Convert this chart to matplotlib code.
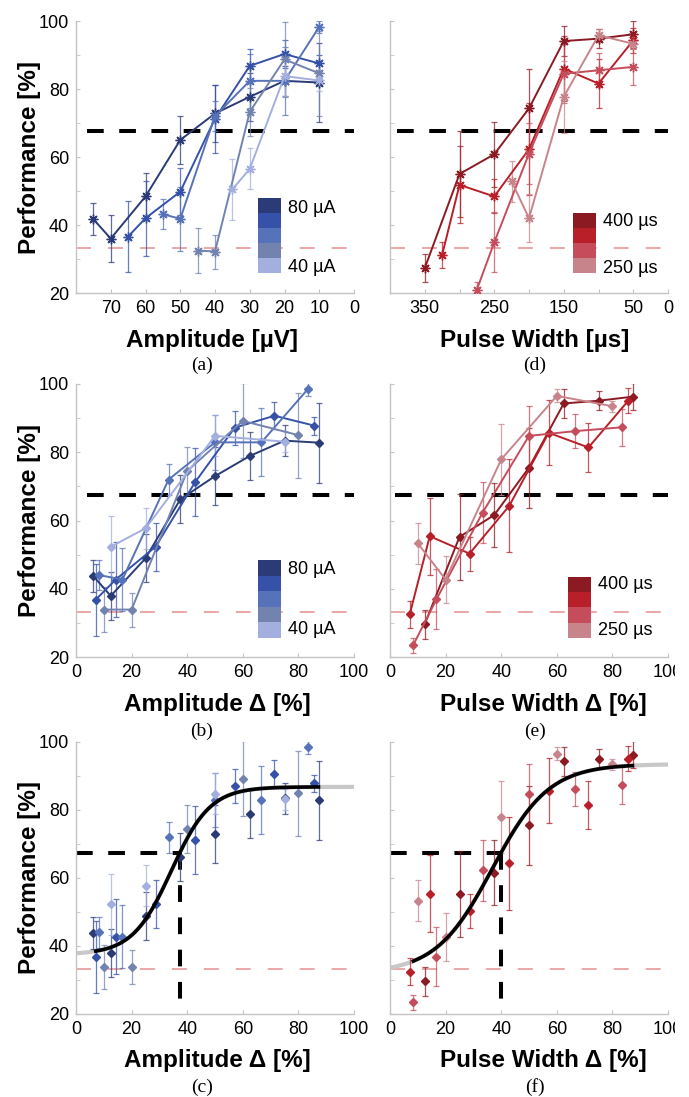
import numpy as np
import matplotlib
matplotlib.use('Agg')
import matplotlib.pyplot as plt
from matplotlib.patches import Rectangle

# ---------------- data ----------------
amp_levels = ['80 µA', '70 µA', '60 µA', '50 µA', '40 µA']
pw_levels = ['400 µs', '350 µs', '300 µs', '250 µs']
blue_colors = ['#2b3b78', '#3552a8', '#5672b8', '#7383b0', '#a3b0df']
red_colors = ['#8c1a22', '#b91f28', '#c54d5b', '#c8848b']

# panel (a): raw amplitude [µV]
amp_raw_x = [[75, 70, 60, 50, 40, 30, 20, 10],
             [65, 60, 50, 40, 30, 20, 10],
             [55, 50, 40, 30, 20, 10],
             [45, 40, 30, 20, 10],
             [35, 30, 20, 10]]
amp_raw_y = [[41.7, 36.0, 48.4, 65.0, 72.8, 77.7, 82.4, 81.9],
             [36.6, 42.0, 49.8, 71.3, 86.8, 90.3, 87.5],
             [43.2, 41.8, 72.0, 82.4, 82.4, 98.3],
             [32.5, 32.2, 73.3, 88.7, 84.6],
             [50.5, 56.5, 83.8, 82.5]]
# panels (b),(c): amplitude delta [%]
amp_d_x = [[6.25, 12.5, 25, 37.5, 50, 62.5, 75, 87.5],
           [7.1, 14.3, 28.6, 42.9, 57.1, 71.4, 85.7],
           [8.3, 16.7, 33.3, 50, 66.7, 83.3],
           [10, 20, 40, 60, 80],
           [12.5, 25, 50, 75]]
amp_d_y = [[43.7, 37.9, 48.9, 66.2, 73.0, 78.9, 83.4, 82.8],
           [36.8, 42.7, 52.3, 71.3, 87.2, 90.7, 87.8],
           [44.0, 42.7, 72.0, 82.9, 82.9, 98.4],
           [33.9, 33.9, 74.5, 89.2, 85.0],
           [52.3, 57.7, 84.8, 83.1]]
amp_err = [[4.7, 7.0, 7.0, 7.0, 8.5, 7.0, 4.5, 11.7],
           [10.5, 11.0, 7.0, 10.0, 5.0, 4.0, 2.6],
           [4.5, 9.3, 4.5, 8.0, 10.0, 1.8],
           [6.5, 5.0, 7.0, 11.0, 12.5],
           [9.0, 6.0, 6.0, 3.0]]

# panel (d): raw pulse width [µs]
pw_raw_x = [[350, 300, 250, 200, 150, 100, 50],
            [325, 300, 250, 200, 150, 100, 50],
            [275, 250, 200, 150, 100, 50],
            [225, 200, 150, 100, 50]]
pw_raw_y = [[27.3, 55.0, 60.8, 74.3, 94.1, 94.8, 96.1],
            [31.2, 51.8, 48.4, 62.3, 86.0, 81.6, 94.3],
            [21.0, 34.9, 61.0, 84.5, 85.5, 86.5],
            [52.8, 42.0, 77.7, 95.8, 93.3]]
# panels (e),(f): pulse width delta [%]
pw_d_x = [[12.5, 25, 37.5, 50, 62.5, 75, 87.5],
          [7.1, 14.3, 28.6, 42.9, 57.1, 71.4, 85.7],
          [8.3, 16.7, 33.3, 50, 66.7, 83.3],
          [10, 20, 40, 60, 80]]
pw_d_y = [[29.6, 55.2, 61.6, 75.5, 94.3, 95.1, 96.3],
          [32.5, 55.4, 50.3, 64.3, 85.7, 81.4, 95.1],
          [23.4, 36.9, 62.3, 84.8, 86.2, 87.3],
          [53.3, 42.7, 77.9, 96.5, 93.5]]
pw_err = [[4.2, 12.6, 9.5, 11.7, 4.3, 2.8, 4.0],
          [3.9, 11.3, 5.0, 13.6, 9.5, 7.1, 3.7],
          [2.3, 8.8, 9.0, 8.7, 5.0, 5.4],
          [6.0, 7.0, 10.5, 1.9, 1.6]]

# sigmoid fits: lower, upper, midpoint, slope width, fit range, threshold x
amp_fit = dict(lo=37.5, hi=86.8, mid=34.3, w=7.0, x0=7.1, x1=87.2, thr=37.5)
pw_fit = dict(lo=32.0, hi=93.5, mid=36.8, w=10.2, x0=8.4, x1=87.2, thr=40.0)

chance_level = 33.3
threshold_level = 67.5

# ---------------- figure ----------------
plt.rcParams['font.family'] = ['Liberation Sans', 'DejaVu Sans']
fig = plt.figure(figsize=(6.89, 10.97), dpi=100)
W, H = 689.0, 1097.0
col_left = [76 / W, 390 / W]
col_w = 278 / W
row_top = [21, 384, 742]
row_h = [272, 273, 272]

SPINE = '#c4c4c4'
PINK = '#e9a0a0'


def make_ax(r, c):
    ax = fig.add_axes([col_left[c], 1 - (row_top[r] + row_h[r]) / H, col_w, row_h[r] / H])
    for s in ['top', 'right']:
        ax.spines[s].set_visible(False)
    for s in ['left', 'bottom']:
        ax.spines[s].set_color(SPINE)
        ax.spines[s].set_linewidth(1.0)
    ax.set_ylim(20, 100)
    ax.set_yticks([20, 40, 60, 80, 100])
    ax.set_yticks([30, 50, 70, 90], minor=True)
    ax.tick_params(axis='both', which='both', color=SPINE, direction='in',
                   length=3, labelsize=13, pad=5)
    if c == 1:
        ax.tick_params(axis='y', labelleft=False)
    else:
        ax.set_ylabel('Performance [%]', fontsize=17.5, fontweight='bold')
        ax.yaxis.set_label_coords(-0.125, 0.5)
    return ax


def ref_lines(ax, start=0.03):
    ax.axhline(chance_level, color=PINK, lw=1.3, ls=(0, (8.3, 9.4)), zorder=1)
    ax.axhline(threshold_level, xmin=start, color='black', lw=2.9,
               ls=(0, (4.15, 3.85)), zorder=1)


def series(ax, x, y, e, c, marker, ms, line=True):
    ax.errorbar(x, y, yerr=e, fmt='none', ecolor=c, elinewidth=0.9, capsize=2.5,
                capthick=0.9, alpha=0.75, zorder=2)
    ax.plot(x, y, color=c, lw=1.4 if line else 0, marker=marker, ms=ms,
            mew=1.0, mfc=c, mec=c, zorder=3)


def legend_box(ax, colors, labels, x0, x1, ytop, ybot, lx, ly_top, ly_bot):
    n = len(colors)
    h = (ytop - ybot) / n
    for i, col in enumerate(colors):
        ax.add_patch(Rectangle((x0, ytop - (i + 1) * h), x1 - x0, h, transform=ax.transAxes,
                               facecolor=col, edgecolor='none', clip_on=False, zorder=5))
    ax.text(lx, ly_top, labels[0], transform=ax.transAxes, fontsize=13, va='center', ha='left')
    ax.text(lx, ly_bot, labels[-1], transform=ax.transAxes, fontsize=13, va='center', ha='left')


def xlabel(ax, text, xfrac, r):
    ax.set_xlabel(text, fontsize=17.5, fontweight='bold')
    ax.xaxis.label.set_va('center')
    ax.xaxis.set_label_coords(xfrac, -47 / row_h[r])


def sigmoid(p, x):
    return p['lo'] + (p['hi'] - p['lo']) / (1 + np.exp(-(x - p['mid']) / p['w']))


def fit_panel(ax, p):
    ax.axhline(chance_level, color=PINK, lw=1.3, ls=(0, (8.3, 9.4)), zorder=1)
    xs = np.linspace(0, 100, 300)
    ax.plot(xs, sigmoid(p, xs), color='#c8c8c8', lw=3.0, zorder=1.5)
    xf = np.linspace(p['x0'], p['x1'], 300)
    ax.plot(xf, sigmoid(p, xf), color='black', lw=2.6, zorder=4)
    ax.plot([0, p['thr']], [threshold_level, threshold_level], color='black', lw=2.9,
            ls=(0, (4.15, 3.85)), zorder=1.6)
    ax.plot([p['thr'], p['thr']], [threshold_level, 20], color='black', lw=2.9,
            ls=(0, (4.15, 3.85)), zorder=1.6, clip_on=False)


# (a)
ax = make_ax(0, 0)
ax.set_xlim(80, 0)
ax.set_xticks([70, 60, 50, 40, 30, 20, 10, 0])
ref_lines(ax, 0.04)
for i in range(5):
    series(ax, amp_raw_x[i], amp_raw_y[i], amp_err[i], blue_colors[i], (8, 2, 0), 7)
legend_box(ax, blue_colors, amp_levels, 0.656, 0.737, 0.348, 0.072, 0.762, 0.311, 0.094)
xlabel(ax, 'Amplitude [µV]', 0.49, 0)

# (d)
ax = make_ax(0, 1)
ax.set_xlim(400, 0)
ax.set_xticks([350, 300, 250, 200, 150, 100, 50, 0])
ax.set_xticklabels(['350', '', '250', '', '150', '', '50', '0'])
ref_lines(ax, 0.025)
for i in range(4):
    series(ax, pw_raw_x[i], pw_raw_y[i], pw_err[i], red_colors[i], (8, 2, 0), 7)
legend_box(ax, red_colors, pw_levels, 0.657, 0.741, 0.293, 0.072, 0.767, 0.262, 0.091)
xlabel(ax, 'Pulse Width [µs]', 0.52, 0)

# (b)
ax = make_ax(1, 0)
ax.set_xlim(0, 100)
ax.set_xticks([0, 20, 40, 60, 80, 100])
ref_lines(ax, 0.04)
for i in range(5):
    series(ax, amp_d_x[i], amp_d_y[i], amp_err[i], blue_colors[i], 'D', 4)
legend_box(ax, blue_colors, amp_levels, 0.656, 0.737, 0.355, 0.071, 0.762, 0.321, 0.101)
xlabel(ax, 'Amplitude Δ [%]', 0.51, 1)

# (e)
ax = make_ax(1, 1)
ax.set_xlim(0, 100)
ax.set_xticks([0, 20, 40, 60, 80, 100])
ref_lines(ax, 0.018)
for i in range(4):
    series(ax, pw_d_x[i], pw_d_y[i], pw_err[i], red_colors[i], 'D', 4)
legend_box(ax, red_colors, pw_levels, 0.641, 0.723, 0.292, 0.071, 0.749, 0.267, 0.096)
xlabel(ax, 'Pulse Width Δ [%]', 0.55, 1)

# (c)
ax = make_ax(2, 0)
ax.set_xlim(0, 100)
ax.set_xticks([0, 20, 40, 60, 80, 100])
fit_panel(ax, amp_fit)
for i in range(5):
    series(ax, amp_d_x[i], amp_d_y[i], amp_err[i], blue_colors[i], 'D', 4, line=False)
xlabel(ax, 'Amplitude Δ [%]', 0.51, 2)

# (f)
ax = make_ax(2, 1)
ax.set_xlim(0, 100)
ax.set_xticks([0, 20, 40, 60, 80, 100])
fit_panel(ax, pw_fit)
for i in range(4):
    series(ax, pw_d_x[i], pw_d_y[i], pw_err[i], red_colors[i], 'D', 4, line=False)
xlabel(ax, 'Pulse Width Δ [%]', 0.55, 2)

# the original figure is cropped at the right edge (last tick label cut)
for ytop in (660, 1018):
    fig.add_artist(Rectangle((675 / W, 1 - (ytop + 28) / H), 20 / W, 28 / H,
                             transform=fig.transFigure, facecolor='white',
                             edgecolor='none', zorder=20))

# panel letters
for (px, py, t) in [(201.7, 365, '(a)'), (535, 365, '(d)'),
                    (201.7, 731.7, '(b)'), (535, 731.7, '(e)'),
                    (201.7, 1087, '(c)'), (535, 1087, '(f)')]:
    fig.text(px / W, 1 - py / H, t, fontsize=14, family='Liberation Serif',
             ha='center', va='center')

fig.savefig('out.png', dpi=100)
